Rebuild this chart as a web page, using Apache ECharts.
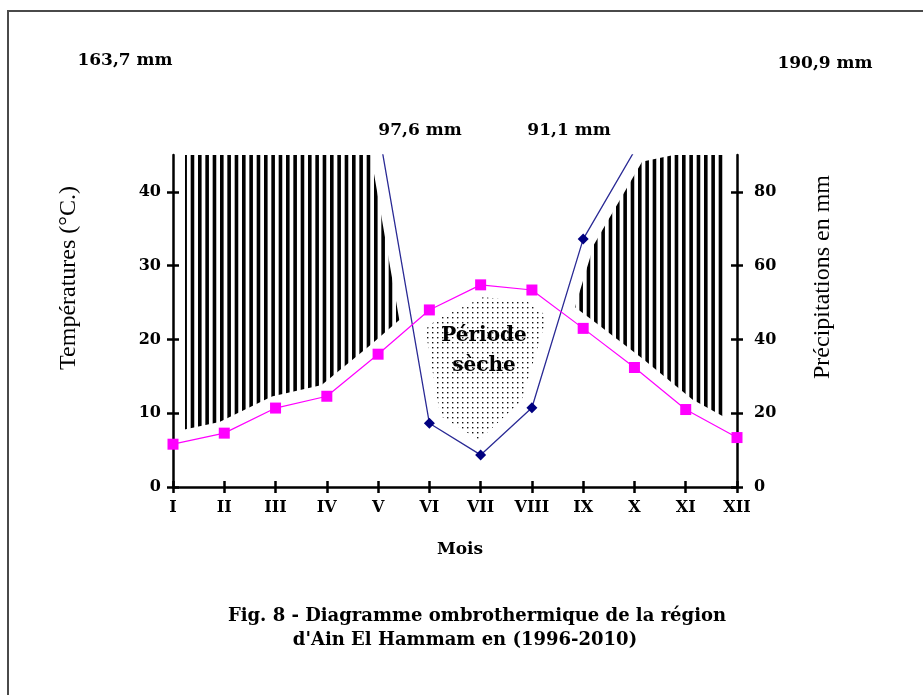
<!DOCTYPE html>
<html>
<head>
<meta charset="utf-8">
<script src="https://cdn.jsdelivr.net/npm/echarts@6/dist/echarts.min.js"></script>
<style>
html,body{margin:0;padding:0;background:#fff}
#main{width:923px;height:695px}
</style>
</head>
<body>
<div id="main"></div>
<script>
/* diagramme ombrothermique - Ain El Hammam */
var mois = ['I','II','III','IV','V','VI','VII','VIII','IX','X','XI','XII'];
var temperatures = [5.8, 7.3, 10.7, 12.3, 18.0, 24.0, 27.4, 26.7, 21.5, 16.2, 10.5, 6.7];
// null = hors echelle, valeur non lisible sur la figure
var precipitations = [163.7, null, null, null, 97.6, 17.3, 8.7, 21.5, 67.2, 91.1, null, 190.9];
var ticksT = [0, 10, 20, 30, 40];
var ticksP = [0, 20, 40, 60, 80];
var annotations = ['163,7 mm', '190,9 mm', '97,6 mm', '91,1 mm'];

var serif = 'DejaVu Serif';
var CAP = 47; // un peu au dessus du cadre, coupe par clip

// motifs
function motifHachures(){
    var c = document.createElement('canvas');
    c.width = 22; c.height = 4;
    var g = c.getContext('2d');
    g.fillStyle = '#000';
    for (var k = 0; k < 3; k++) g.fillRect(k * 22 / 3, 0, 3.6, 4);
    return c;
}
function motifPoints(){
    var c = document.createElement('canvas');
    c.width = 5; c.height = 5;
    var g = c.getContext('2d');
    g.fillStyle = '#111';
    g.fillRect(2, 2, 1.4, 1.4);
    return c;
}
var hachures = {type: 'pattern', image: motifHachures(), repeat: 'repeat'};
var pointilles = {type: 'pattern', image: motifPoints(), repeat: 'repeat'};

// zones humide (P > 2T) et seche (P < 2T)
function calcZones(){
    var pts = [];
    for (var i = 0; i < 11; i++) {
        var h0 = precipitations[i] == null ? CAP : precipitations[i] / 2;
        var h1 = precipitations[i + 1] == null ? CAP : precipitations[i + 1] / 2;
        var t0 = temperatures[i], t1 = temperatures[i + 1];
        var fs = [0, 1], cross = {};
        if ((h0 - CAP) * (h1 - CAP) < 0) fs.push((CAP - h0) / (h1 - h0));
        var d0 = h0 - t0, d1 = h1 - t1;
        if (d0 * d1 < 0) { var fc = d0 / (d0 - d1); fs.push(fc); cross[fc] = true; }
        fs.sort(function(a, b){ return a - b; });
        for (var k = (i == 0 ? 0 : 1); k < fs.length; k++) {
            var f = fs[k], h = h0 + (h1 - h0) * f, t = t0 + (t1 - t0) * f;
            pts.push({x: i + 1 + f, h: h, u: Math.min(h, CAP), t: t, c: !!cross[f]});
        }
    }
    var zones = [], run = [pts[0]];
    for (var j = 1; j < pts.length; j++) {
        run.push(pts[j]);
        if (pts[j].c || j == pts.length - 1) { zones.push(run); run = [pts[j]]; }
    }
    return zones.map(function(r){
        var mid = r[Math.floor(r.length / 2)];
        var humide = mid.u > mid.t;
        var haut = r.map(function(p){ return [p.x, humide ? p.u : p.t]; });
        var bas = r.map(function(p){ return [p.x, humide ? p.t : p.h]; }).reverse();
        return {humide: humide, pts: haut.concat(bas)};
    });
}
var zones = calcZones();

var axeLigne = {show: true, lineStyle: {color: '#000', width: 2.5}};
var labelStyle = {color: '#000', fontFamily: serif, fontWeight: 'bold', fontSize: 16};
var fontTexte = 'bold 17px "DejaVu Serif"';

option = {
    animation: false,
    backgroundColor: '#fff',
    grid: {left: 173, right: 186, top: 155, bottom: 208},
    xAxis: [
        {
            type: 'value', min: 1, max: 12, interval: 1, z: 1,
            axisLine: axeLigne,
            axisTick: {length: 6, lineStyle: {color: '#000', width: 2.5}},
            axisLabel: Object.assign({margin: 13, formatter: function(v){ return mois[v - 1]; }}, labelStyle),
            splitLine: {show: false},
            name: 'Mois', nameLocation: 'middle', nameGap: 54,
            nameTextStyle: {color: '#000', fontFamily: serif, fontWeight: 'bold', fontSize: 17, padding: [0, 0, 0, 10]}
        },
        {
            type: 'value', min: 1, max: 12, interval: 1, z: 1, position: 'bottom',
            axisLine: {show: false},
            axisTick: {inside: true, length: 6, lineStyle: {color: '#000', width: 2.5}},
            axisLabel: {show: false}, splitLine: {show: false}
        }
    ],
    yAxis: [
        {
            type: 'value', min: 0, max: 45, interval: 10, position: 'left', z: 1,
            axisLine: axeLigne,
            axisTick: {length: 6, customValues: ticksT, lineStyle: {color: '#000', width: 2.5}},
            axisLabel: Object.assign({margin: 12, customValues: ticksT}, labelStyle),
            splitLine: {show: false}
        },
        {
            type: 'value', min: 0, max: 90, interval: 20, position: 'right', z: 1,
            axisLine: axeLigne,
            axisTick: {length: 6, customValues: ticksP, lineStyle: {color: '#000', width: 2.5}},
            axisLabel: Object.assign({margin: 17, customValues: ticksP}, labelStyle),
            splitLine: {show: false}
        },
        {
            type: 'value', min: 0, max: 45, position: 'left', z: 1,
            axisLine: {show: false},
            axisTick: {inside: true, length: 6, customValues: ticksT, lineStyle: {color: '#000', width: 2.5}},
            axisLabel: {show: false}, splitLine: {show: false}
        },
        {
            type: 'value', min: 0, max: 90, position: 'right', z: 1,
            axisLine: {show: false},
            axisTick: {inside: true, length: 6, customValues: ticksP, lineStyle: {color: '#000', width: 2.5}},
            axisLabel: {show: false}, splitLine: {show: false}
        }
    ],
    graphic: [
        {type: 'rect', z: 0, shape: {x: 8, y: 11, width: 1200, height: 1200},
            style: {fill: 'none', stroke: '#4a4a4a', lineWidth: 2}},
        {type: 'text', z: 10, x: 125, y: 61, style: {text: annotations[0], font: fontTexte, fill: '#000', align: 'center', verticalAlign: 'middle'}},
        {type: 'text', z: 10, x: 825, y: 64, style: {text: annotations[1], font: fontTexte, fill: '#000', align: 'center', verticalAlign: 'middle'}},
        {type: 'text', z: 10, x: 420, y: 131, style: {text: annotations[2], font: fontTexte, fill: '#000', align: 'center', verticalAlign: 'middle'}},
        {type: 'text', z: 10, x: 569, y: 131, style: {text: annotations[3], font: fontTexte, fill: '#000', align: 'center', verticalAlign: 'middle'}},
        {type: 'text', z: 10, x: 69, y: 278, rotation: Math.PI / 2,
            style: {text: 'Températures (°C.)', font: '24px "Liberation Serif"', fill: '#000', align: 'center', verticalAlign: 'middle'}},
        {type: 'text', z: 10, x: 823, y: 277, rotation: Math.PI / 2,
            style: {text: 'Précipitations en mm', font: '24px "Liberation Serif"', fill: '#000', align: 'center', verticalAlign: 'middle'}},
        {type: 'text', z: 10, x: 484, y: 351, style: {text: 'Période\nsèche', font: 'bold 20px "DejaVu Serif"', lineHeight: 30, fill: '#000', align: 'center', verticalAlign: 'middle'}},
        {type: 'text', z: 10, x: 477, y: 616, style: {text: 'Fig. 8 - Diagramme ombrothermique de la région', font: 'bold 18px "DejaVu Serif"', fill: '#000', align: 'center', verticalAlign: 'middle'}},
        {type: 'text', z: 10, x: 465, y: 640, style: {text: 'd\'Ain El Hammam en (1996-2010)', font: 'bold 18px "DejaVu Serif"', fill: '#000', align: 'center', verticalAlign: 'middle'}}
    ],
    series: [
        {
            type: 'custom', z: 0, clip: true, silent: true,
            xAxisIndex: 0, yAxisIndex: 0,
            renderItem: function(params, api){
                var zn = zones[params.dataIndex];
                return {
                    type: 'polygon',
                    shape: {points: zn.pts.map(function(p){ return api.coord(p); })},
                    style: {fill: zn.humide ? hachures : pointilles, stroke: '#fff', lineWidth: 24, lineJoin: 'round'}
                };
            },
            data: zones.map(function(zn){ return [zn.pts[0][0], 0]; })
        },
        {
            name: 'Précipitations', type: 'line', yAxisIndex: 1, z: 2,
            symbol: 'diamond', symbolSize: 11,
            itemStyle: {color: '#000080'},
            lineStyle: {color: '#2a2a95', width: 1.3},
            data: precipitations.map(function(v, i){ return [i + 1, v]; })
        },
        {
            name: 'Températures', type: 'line', yAxisIndex: 0, z: 3,
            symbol: 'rect', symbolSize: 11,
            itemStyle: {color: '#ff00ff'},
            lineStyle: {color: '#ff00ff', width: 1.2},
            data: temperatures.map(function(v, i){ return [i + 1, v]; })
        }
    ]
};

var myChart = echarts.init(document.getElementById('main'));
myChart.setOption(option);
</script>
</body>
</html>
